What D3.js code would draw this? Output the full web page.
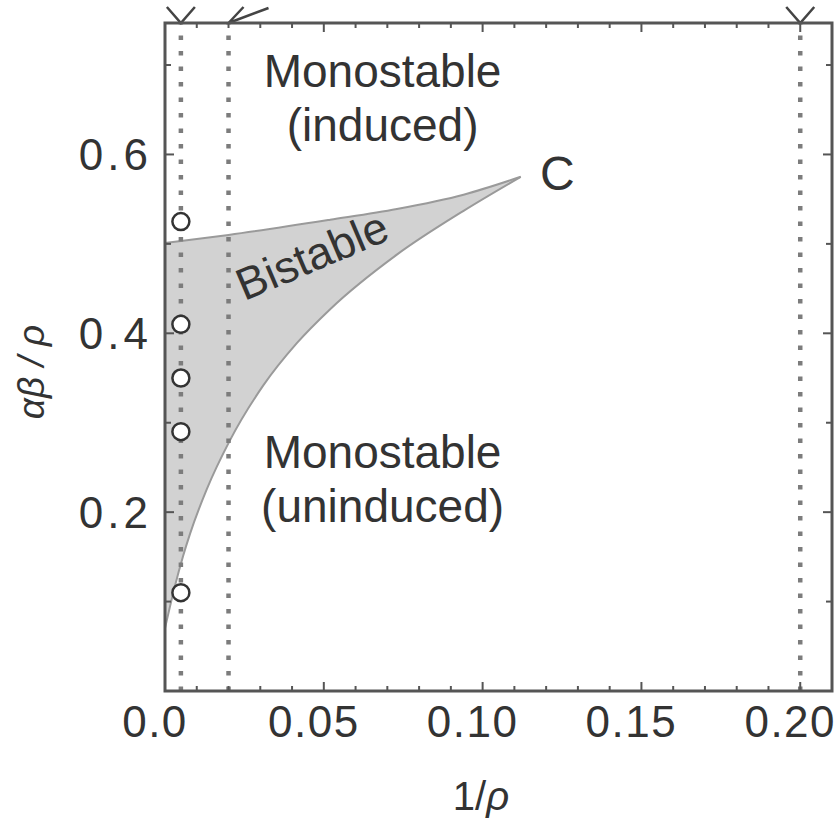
<!DOCTYPE html>
<html>
<head>
<meta charset="utf-8">
<script src="https://cdn.jsdelivr.net/npm/d3@7/dist/d3.min.js"></script>
<style>
  html, body { margin: 0; padding: 0; background: #fff; }
  svg { display: block; }
  text { font-family: "Liberation Sans", Arial, Helvetica, sans-serif; fill: #333; }
</style>
</head>
<body>
<svg id="chart" width="838" height="819"></svg>
<script>
// Phase diagram: bistable region in the (1/rho, alpha*beta/rho) plane

// x positions (1/rho) of the dotted guide lines and their top markers
const guideX = [0.005, 0.02, 0.2];
const guideMarker = ["v", "slant", "v"];

// measured points (open circles) along 1/rho = 0.005
const pointX = 0.005;
const pointY = [0.525, 0.41, 0.35, 0.29, 0.11];

// upper edge of the bistable region, from the axis to the cusp C
const upperX = [0, 0.02, 0.052, 0.073, 0.094, 0.112];
const upperY = [0.501, 0.510, 0.527, 0.539, 0.555, 0.575];

// lower edge of the bistable region, from the axis to the cusp C
const lowerX = [0, 0.0031, 0.0057, 0.0079, 0.0132, 0.0204, 0.031, 0.0415, 0.052, 0.073, 0.094, 0.112];
const lowerY = [0.07, 0.117, 0.151, 0.176, 0.226, 0.28, 0.342, 0.389, 0.427, 0.488, 0.537, 0.575];

// axis ticks
const xMajor = [0, 0.05, 0.10, 0.15, 0.20];
const xMajorLabels = ["0.0", "0.05", "0.10", "0.15", "0.20"];
const xMinor = [0.01, 0.02, 0.03, 0.04, 0.06, 0.07, 0.08, 0.09, 0.11, 0.12, 0.13, 0.14, 0.16, 0.17, 0.18, 0.19];
const yMajor = [0.2, 0.4, 0.6];
const yMajorLabels = ["0.2", "0.4", "0.6"];
const yMinor = [0.1, 0.3, 0.5, 0.7];

// region labels
const regionLabels = [
  { lines: ["Monostable", "(induced)"], x: 0.0685, y: 0.675 },
  { lines: ["Monostable", "(uninduced)"], x: 0.0685, y: 0.249 }
];

const svg = d3.select("#chart");
const plot = { left: 165, right: 832, top: 23, bottom: 691 };

const x = d3.scaleLinear().domain([0, 0.21]).range([plot.left, plot.right]);
const y = d3.scaleLinear().domain([0, 0.747]).range([plot.bottom, plot.top]);

svg.append("rect").attr("width", 838).attr("height", 819).attr("fill", "#fff");

// bistable region: both edges are single-valued in x, so a monotone curve keeps them smooth
const edge = d3.line().x(d => x(d[0])).y(d => y(d[1])).curve(d3.curveMonotoneX);
const lowerPts = lowerX.map((v, i) => [v, lowerY[i]]);
const upperPts = upperX.map((v, i) => [v, upperY[i]]);
const lowerPath = edge(lowerPts);
const upperPath = edge(upperPts);
// closed outline: lower edge out to C, then the upper edge back to the axis
const upperBack = edge(upperPts.slice().reverse().map(p => [p[0], p[1]]));
svg.append("path")
  .attr("d", lowerPath + upperBack.replace(/^M/, "L") + "Z")
  .attr("fill", "#d2d2d2")
  .attr("stroke", "none");
svg.append("path").attr("d", lowerPath).attr("fill", "none").attr("stroke", "#9a9a9a").attr("stroke-width", 2);
svg.append("path").attr("d", upperPath).attr("fill", "none").attr("stroke", "#9a9a9a").attr("stroke-width", 2);

// dotted guide lines
svg.selectAll(".guide").data(guideX).join("line")
  .attr("class", "guide")
  .attr("x1", d => x(d)).attr("x2", d => x(d))
  .attr("y1", plot.bottom).attr("y2", plot.top)
  .attr("stroke", "#7c7c7c")
  .attr("stroke-width", 4.5)
  .attr("stroke-dasharray", "4.5,11");

// markers above the guide lines
guideX.forEach((gx, i) => {
  const px = x(gx);
  let pts;
  if (guideMarker[i] === "v") {
    pts = [[px - 14, plot.top - 16], [px, plot.top], [px + 14, plot.top - 16]];
  } else {
    pts = [[px + 15, plot.top - 16], [px, plot.top], [px + 40, plot.top - 15]];
  }
  svg.append("path")
    .attr("d", d3.line()(pts))
    .attr("fill", "none")
    .attr("stroke", "#444")
    .attr("stroke-width", 2.5);
});

// frame
svg.append("rect")
  .attr("x", plot.left).attr("y", plot.top)
  .attr("width", plot.right - plot.left).attr("height", plot.bottom - plot.top)
  .attr("fill", "none").attr("stroke", "#555").attr("stroke-width", 3);

// inward ticks on all four sides
const tickG = svg.append("g").attr("stroke", "#555").attr("stroke-width", 2);
function xTicks(vals, len) {
  vals.forEach(v => {
    tickG.append("line").attr("x1", x(v)).attr("x2", x(v)).attr("y1", plot.bottom).attr("y2", plot.bottom - len);
    tickG.append("line").attr("x1", x(v)).attr("x2", x(v)).attr("y1", plot.top).attr("y2", plot.top + len);
  });
}
function yTicks(vals, len) {
  vals.forEach(v => {
    tickG.append("line").attr("y1", y(v)).attr("y2", y(v)).attr("x1", plot.left).attr("x2", plot.left + len);
    tickG.append("line").attr("y1", y(v)).attr("y2", y(v)).attr("x1", plot.right).attr("x2", plot.right - len);
  });
}
xTicks(xMajor, 9); xTicks(xMinor, 5);
yTicks(yMajor, 9); yTicks(yMinor, 6);

// open circles
svg.selectAll(".pt").data(pointY).join("circle")
  .attr("class", "pt")
  .attr("cx", x(pointX)).attr("cy", d => y(d))
  .attr("r", 8.5)
  .attr("fill", "#fff")
  .attr("stroke", "#333")
  .attr("stroke-width", 2.5);

// tick labels
svg.selectAll(".xl").data(xMajor).join("text")
  .attr("class", "xl")
  .attr("x", d => x(d) - 10).attr("y", 737)
  .attr("text-anchor", "middle")
  .attr("font-size", 44)
  .attr("letter-spacing", 1.5)
  .text((d, i) => xMajorLabels[i]);

svg.selectAll(".yl").data(yMajor).join("text")
  .attr("class", "yl")
  .attr("x", 152).attr("y", d => y(d) + 16)
  .attr("text-anchor", "end")
  .attr("font-size", 44)
  .attr("letter-spacing", 4)
  .text((d, i) => yMajorLabels[i]);

// axis titles
const xt = svg.append("text").attr("x", 481).attr("y", 810).attr("text-anchor", "middle").attr("font-size", 40);
xt.append("tspan").text("1/");
xt.append("tspan").attr("font-style", "italic").text("ρ");

svg.append("text")
  .attr("transform", "translate(44,372) rotate(-90)")
  .attr("text-anchor", "middle")
  .attr("font-size", 37)
  .attr("font-style", "italic")
  .text("αβ / ρ");

// region labels
regionLabels.forEach(lab => {
  const t = svg.append("text")
    .attr("x", x(lab.x)).attr("y", y(lab.y))
    .attr("text-anchor", "middle")
    .attr("font-size", 46);
  lab.lines.forEach((ln, i) => {
    t.append("tspan").attr("x", x(lab.x)).attr("dy", i === 0 ? 0 : 54).text(ln);
  });
});

svg.append("text")
  .attr("transform", "translate(318,270) rotate(-23)")
  .attr("text-anchor", "middle")
  .attr("font-size", 45)
  .text("Bistable");

// cusp label
svg.append("text")
  .attr("x", x(0.1235)).attr("y", 190)
  .attr("text-anchor", "middle")
  .attr("font-size", 48)
  .text("C");
</script>
</body>
</html>
